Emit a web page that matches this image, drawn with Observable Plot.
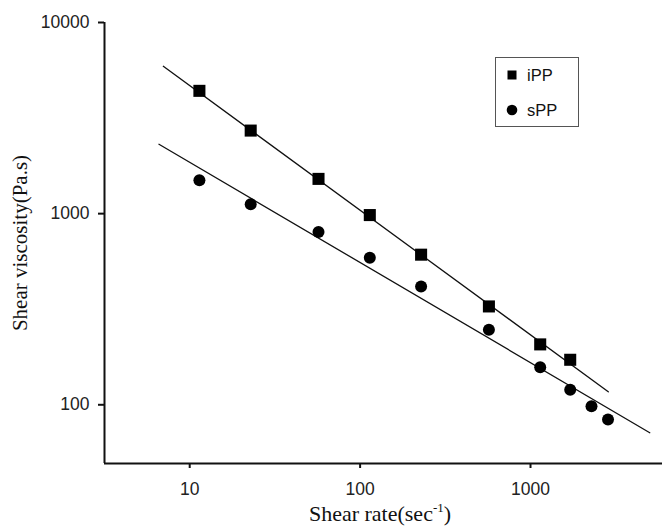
<!DOCTYPE html>
<html>
<head>
<meta charset="utf-8">
<script src="https://cdn.jsdelivr.net/npm/d3@7"></script>
<script src="https://cdn.jsdelivr.net/npm/@observablehq/plot@0.6"></script>
<style>
  html, body { margin: 0; padding: 0; background: #fff; }
  #wrap { position: relative; width: 662px; height: 526px; }
  #legend {
    position: absolute; left: 495px; top: 57px; width: 84px; height: 70px;
    border: 1.5px solid #555; box-sizing: border-box;
    font-family: "Liberation Sans", Arial, sans-serif; font-size: 16.5px; color: #111;
  }
  .item { position: absolute; left: 0; height: 20px; line-height: 20px; }
  .item svg { position: absolute; left: 10px; top: 4px; }
  .item span { position: absolute; left: 31px; top: 0; }
</style>
</head>
<body>
<div id="wrap">
  <div id="chart"></div>
  <div id="legend"></div>
</div>
<script>
// Capillary rheometry: shear viscosity vs shear rate for iPP and sPP (log–log)
const shearRate = [11.4, 22.8, 57, 114, 228, 570, 1140, 1710, 2280, 2850];
const iPPViscosity = [4390, 2720, 1520, 983, 610, 327, 207, 172];
const sPPViscosity = [1494, 1119, 801, 588, 416, 247, 157, 120, 98.3, 83.8];

// Power-law fit lines (endpoints)
const iPPFitRate = [7.0, 2860];
const iPPFitViscosity = [5900, 117];
const sPPFitRate = [6.6, 5010];
const sPPFitViscosity = [2306, 71.4];

const xTicks = [10, 100, 1000];
const yTicks = [100, 1000, 10000];
const xDomain = [3.162, 5951];
const yDomain = [49.3, 10000];

const series = [
  {name: "iPP", symbol: "square"},
  {name: "sPP", symbol: "circle"}
];

const chart = Plot.plot({
  width: 662,
  height: 526,
  marginTop: 22,
  marginLeft: 104,
  marginRight: 0,
  marginBottom: 63,
  x: {type: "log", domain: xDomain},
  y: {type: "log", domain: yDomain},
  style: {
    background: "white",
    color: "#111",
    fontFamily: "'Liberation Sans', Arial, sans-serif",
    fontSize: "17.5px"
  },
  marks: [
    Plot.axisX(xTicks, {
      tickSize: 5, tickPadding: 14, strokeWidth: 2,
      tickFormat: d => String(d), label: null, fontSize: 17.5, fill: "#222"
    }),
    Plot.axisY(yTicks, {
      tickSize: 6, tickPadding: 9, strokeWidth: 2,
      tickFormat: d => String(d), label: null, fontSize: 17.5, fill: "#222"
    }),
    Plot.ruleX([xDomain[0]], {strokeWidth: 2, stroke: "#111"}),
    Plot.ruleY([yDomain[0]], {strokeWidth: 2, stroke: "#111"}),
    Plot.line(iPPFitRate, {x: iPPFitRate, y: iPPFitViscosity, stroke: "#111", strokeWidth: 1.3}),
    Plot.line(sPPFitRate, {x: sPPFitRate, y: sPPFitViscosity, stroke: "#111", strokeWidth: 1.3}),
    Plot.dot(iPPViscosity, {
      x: shearRate.slice(0, iPPViscosity.length), y: iPPViscosity,
      symbol: "square", r: 6.8, fill: "#000", stroke: "none"
    }),
    Plot.dot(sPPViscosity, {
      x: shearRate, y: sPPViscosity,
      symbol: "circle", r: 6, fill: "#000", stroke: "none"
    })
  ]
});

document.getElementById("chart").appendChild(chart);

// Axis titles in a serif face, with a superscript on the x title
const svg = d3.select(chart);
svg.append("text")
  .attr("x", 380).attr("y", 521)
  .attr("text-anchor", "middle")
  .style("font-family", "'Liberation Serif', 'Times New Roman', serif")
  .style("font-size", "22px")
  .attr("fill", "#111")
  .call(t => {
    t.append("tspan").text("Shear rate(sec");
    t.append("tspan").attr("dy", -9).style("font-size", "13px").text("-1");
    t.append("tspan").attr("dy", 9).text(")");
  });
svg.append("text")
  .attr("transform", "translate(27,243) rotate(-90)")
  .attr("text-anchor", "middle")
  .style("font-family", "'Liberation Serif', 'Times New Roman', serif")
  .style("font-size", "21px")
  .attr("fill", "#111")
  .text("Shear viscosity(Pa.s)");

// Legend box
const legend = d3.select("#legend");
series.forEach((s, i) => {
  const item = legend.append("div").attr("class", "item").style("top", `${7 + i * 35}px`);
  const sym = item.append("svg").attr("width", 12).attr("height", 12);
  if (s.symbol === "square") {
    sym.append("rect").attr("x", 1.5).attr("y", 1.5).attr("width", 9).attr("height", 9).attr("fill", "#000");
  } else {
    sym.append("circle").attr("cx", 6).attr("cy", 6).attr("r", 5.3).attr("fill", "#000");
  }
  item.append("span").text(s.name);
});
</script>
</body>
</html>
